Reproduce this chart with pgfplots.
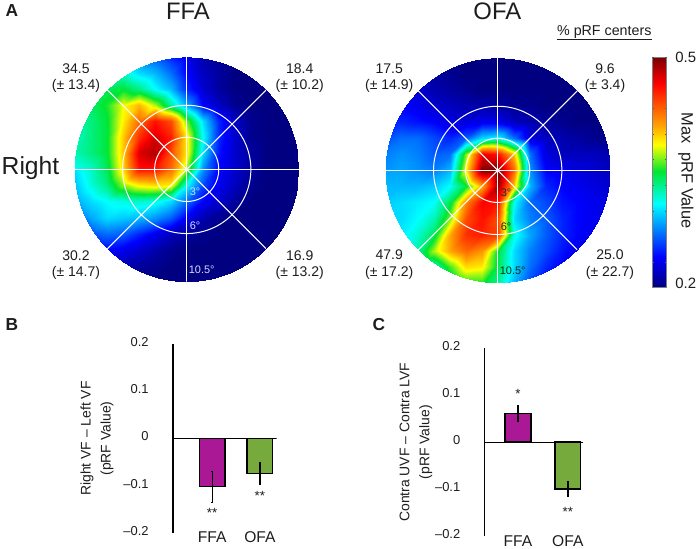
\documentclass[border=0pt]{standalone}
\usepackage{fontspec}
\setmainfont{Liberation Sans}
\usepackage{pgfplots}
\pgfplotsset{compat=1.18}
\newcommand{\fs}[1]{\fontsize{#1}{#1}\selectfont}
\definecolor{txt}{RGB}{30,28,28}
\definecolor{ffabar}{RGB}{170,24,150}
\definecolor{ofabar}{RGB}{118,170,60}
\tikzset{ring/.style={white, line width=0.75pt}, px/.style={x=0.75pt, y=-0.75pt}}

\pgfplotsset{
  colormap={prf}{rgb255(0)=(0,0,128) rgb255(27)=(0,0,255) rgb255(73)=(0,255,255) rgb255(101)=(0,230,50)
    rgb255(124)=(255,255,0) rgb255(140)=(255,165,0) rgb255(177)=(255,0,0) rgb255(200)=(120,0,0)},
  polarmap/.style={
    hide axis, scale only axis, anchor=center, width=168.4pt, height=168.4pt,
    xmin=-10.5, xmax=10.5, ymin=-10.5, ymax=10.5,
    colormap name=prf, point meta min=0.2, point meta max=0.5,
  },
  heat/.style={surf, shader=interp, mesh/cols=15, point meta=explicit},
  spoke/.style={white, line width=#1, forget plot},
  barplot/.style={
    scale only axis, anchor=south west,
    ymin=-0.2, ymax=0.2,
    axis x line=bottom, axis y line=left,
    x axis line style={draw=none}, y axis line style={-, line width=0.9pt},
    xtick={1,2}, xticklabels={FFA,OFA},
    ytick={-0.2,-0.1,0,0.1,0.2}, yticklabels={--0.2,--0.1,0,0.1,0.2},
    major tick length=0pt,
    xticklabel style={font=\fs{11.7}, text=txt, anchor=base, yshift=-7.6pt},
    yticklabel style={font=\fs{9.7}, text=txt, anchor=east, xshift=-14.8pt, yshift=1.5pt},
  },
  onebar/.style={ybar, bar width=19.3pt, bar shift=0pt, draw=black, line width=1pt, fill=#1,
    error bars/.cd, y dir=both, y explicit,
    error bar style={line width=1pt, black}, error mark options={mark size=0.8pt, line width=0.8pt, black, rotate=90}},
}

\begin{document}
\begin{tikzpicture}[every node/.style={text=txt}]
\useasboundingbox (0pt,0pt) rectangle (525pt,-411.75pt);

% panel A, left map
\begin{scope}
\clip (140.025pt,-127.05pt) circle [radius=84.2pt];
\begin{axis}[polarmap, at={(140.025pt,-127.05pt)}]
\addplot[heat] table[row sep=\\, header=false,
    x expr={mod(\coordindex,15)*1.5-10.5}, y expr={10.5-1.5*floor(\coordindex/15)}, meta index=0] {
.30\\.30\\.30\\.30\\.28\\.265\\.25\\.235\\.215\\.205\\.20\\.20\\.20\\.20\\.20\\
.33\\.33\\.33\\.32\\.30\\.29\\.27\\.24\\.22\\.21\\.20\\.20\\.20\\.20\\.20\\
.335\\.335\\.345\\.35\\.335\\.31\\.29\\.25\\.225\\.21\\.20\\.20\\.20\\.20\\.20\\
.335\\.34\\.355\\.385\\.405\\.375\\.33\\.285\\.24\\.22\\.205\\.20\\.20\\.20\\.20\\
.33\\.335\\.35\\.39\\.43\\.46\\.44\\.365\\.30\\.25\\.22\\.205\\.20\\.20\\.20\\
.32\\.335\\.35\\.40\\.45\\.475\\.455\\.39\\.31\\.25\\.225\\.205\\.20\\.20\\.20\\
.325\\.335\\.35\\.40\\.475\\.485\\.44\\.39\\.30\\.245\\.225\\.21\\.20\\.20\\.20\\
.31\\.32\\.345\\.395\\.46\\.46\\.43\\.37\\.28\\.24\\.225\\.21\\.20\\.20\\.20\\
.30\\.315\\.335\\.37\\.39\\.395\\.39\\.31\\.26\\.235\\.22\\.205\\.20\\.20\\.20\\
.285\\.30\\.31\\.315\\.32\\.315\\.30\\.27\\.24\\.225\\.21\\.20\\.20\\.20\\.20\\
.27\\.285\\.30\\.295\\.29\\.28\\.265\\.235\\.215\\.205\\.20\\.20\\.20\\.20\\.20\\
.25\\.26\\.27\\.265\\.25\\.235\\.22\\.21\\.205\\.20\\.20\\.20\\.20\\.20\\.20\\
.23\\.235\\.24\\.235\\.225\\.215\\.205\\.20\\.20\\.20\\.20\\.20\\.20\\.20\\.20\\
.21\\.215\\.22\\.215\\.21\\.205\\.20\\.20\\.20\\.20\\.20\\.20\\.20\\.20\\.20\\
.20\\.20\\.205\\.205\\.20\\.20\\.20\\.20\\.20\\.20\\.20\\.20\\.20\\.20\\.20\\
};
\addplot[spoke=1.05pt] coordinates {(-10.5,0) (10.5,0)};
\addplot[spoke=1.05pt] coordinates {(0,-10.5) (0,10.5)};
\addplot[spoke=0.75pt] coordinates {(-7.43,-7.43) (7.43,7.43)};
\addplot[spoke=0.75pt] coordinates {(-7.43,7.43) (7.43,-7.43)};
\draw[ring] (axis cs:0,0) circle [radius=3];
\draw[ring] (axis cs:0,0) circle [radius=6];
\end{axis}
\end{scope}

% panel A, right map
\begin{scope}
\clip (373.275pt,-127.8pt) circle [radius=84.3pt];
\begin{axis}[polarmap, at={(373.275pt,-127.8pt)}]
\addplot[heat] table[row sep=\\, header=false,
    x expr={mod(\coordindex,15)*1.5-10.5}, y expr={10.5-1.5*floor(\coordindex/15)}, meta index=0] {
.20\\.20\\.20\\.20\\.20\\.20\\.20\\.20\\.20\\.20\\.20\\.20\\.20\\.20\\.20\\
.23\\.225\\.215\\.21\\.205\\.20\\.20\\.20\\.20\\.20\\.20\\.20\\.20\\.20\\.20\\
.235\\.23\\.225\\.215\\.21\\.205\\.20\\.20\\.20\\.20\\.20\\.20\\.20\\.20\\.20\\
.24\\.24\\.235\\.225\\.22\\.215\\.215\\.21\\.205\\.205\\.20\\.20\\.20\\.20\\.20\\
.25\\.25\\.245\\.24\\.23\\.23\\.235\\.235\\.22\\.215\\.21\\.205\\.20\\.20\\.20\\
.26\\.27\\.27\\.26\\.25\\.265\\.30\\.31\\.27\\.23\\.22\\.215\\.21\\.205\\.20\\
.275\\.28\\.275\\.265\\.27\\.37\\.47\\.46\\.40\\.27\\.23\\.22\\.22\\.22\\.215\\
.28\\.285\\.28\\.275\\.29\\.39\\.50\\.50\\.43\\.28\\.24\\.235\\.23\\.225\\.22\\
.285\\.29\\.29\\.295\\.31\\.35\\.41\\.49\\.40\\.29\\.25\\.24\\.235\\.23\\.225\\
.295\\.30\\.305\\.31\\.345\\.42\\.465\\.46\\.31\\.27\\.26\\.245\\.24\\.235\\.23\\
.30\\.30\\.31\\.325\\.37\\.44\\.46\\.44\\.30\\.275\\.265\\.25\\.24\\.235\\.23\\
.30\\.305\\.32\\.345\\.41\\.45\\.455\\.445\\.315\\.285\\.265\\.25\\.24\\.235\\.23\\
.30\\.305\\.33\\.375\\.41\\.43\\.415\\.35\\.30\\.275\\.26\\.245\\.23\\.23\\.23\\
.30\\.305\\.315\\.32\\.36\\.395\\.39\\.345\\.30\\.27\\.25\\.24\\.23\\.23\\.23\\
.30\\.30\\.31\\.32\\.335\\.355\\.355\\.33\\.29\\.26\\.24\\.23\\.23\\.23\\.23\\
};
\addplot[spoke=1.05pt] coordinates {(-10.5,0) (10.5,0)};
\addplot[spoke=1.05pt] coordinates {(0,-10.5) (0,10.5)};
\addplot[spoke=0.75pt] coordinates {(-7.43,-7.43) (7.43,7.43)};
\addplot[spoke=0.75pt] coordinates {(-7.43,7.43) (7.43,-7.43)};
\draw[ring] (axis cs:0,0) circle [radius=3];
\draw[ring] (axis cs:0,0) circle [radius=6];
\end{axis}
\end{scope}

% colour bar
\begin{axis}[scale only axis, anchor=south west, at={(489pt,-215.775pt)}, width=11pt, height=172.8pt,
    xmin=0, xmax=1, ymin=0.2, ymax=0.5, xtick=\empty, axis on top,
    colormap name=prf, point meta min=0.2, point meta max=0.5,
    axis line style={gray, line width=0.5pt}, tick style={gray!70!black, line width=0.3pt},
    tick align=inside, major tick length=1.6pt, minor tick length=1.6pt,
    yticklabel pos=right,
    ytick={0.2}, yticklabels={0.2},
    extra y ticks={0.5}, extra y tick labels={0.5},
    extra y tick style={yticklabel style={yshift=-3.3pt}},
    minor ytick={0.2333,0.2667,0.3,0.3333,0.3667,0.4,0.4333,0.4667},
    yticklabel style={font=\fs{11.2}, text=txt, yshift=3.5pt, xshift=3pt},
    ylabel={Max\ \ pRF Value},
    ylabel style={font=\fs{12.3}, text=txt, at={(axis description cs:2.31,0.508)}, anchor=center, rotate=180},
  ]
\addplot[surf, shader=interp, mesh/cols=2, point meta=explicit] coordinates {
  (0,0.2) [0.2] (1,0.2) [0.2]
  (0,0.5) [0.5] (1,0.5) [0.5]
};
\end{axis}

% text of panel A
\begin{scope}[px]
\node[anchor=base west, font=\fs{13}\bfseries] at (1,17) {A};
\node[anchor=base, font=\fs{17.9}] at (188,20) {FFA};
\node[anchor=base, font=\fs{17.9}] at (497.3,20) {OFA};
\node[anchor=base, font=\fs{18.5}] at (30.5,175) {Right};
\node[anchor=base, font=\fs{10.7}, inner sep=0pt] (pc) at (604.3,36) {\% pRF centers};
\draw[txt, line width=0.6pt] (557,39.5) -- (651.7,39.5);

\node[anchor=base, font=\fs{10.5}] at (76,74) {34.5};
\node[anchor=base, font=\fs{10.5}] at (76,89.5) {(± 13.4)};
\node[anchor=base, font=\fs{10.5}] at (299.7,74) {18.4};
\node[anchor=base, font=\fs{10.5}] at (299.7,89.5) {(± 10.2)};
\node[anchor=base, font=\fs{10.5}] at (76,260) {30.2};
\node[anchor=base, font=\fs{10.5}] at (76,276.5) {(± 14.7)};
\node[anchor=base, font=\fs{10.5}] at (299.7,260) {16.9};
\node[anchor=base, font=\fs{10.5}] at (299.7,276.5) {(± 13.2)};

\node[anchor=base, font=\fs{10.5}] at (389.3,73.5) {17.5};
\node[anchor=base, font=\fs{10.5}] at (389.3,90) {(± 14.9)};
\node[anchor=base, font=\fs{10.5}] at (605,73.5) {9.6};
\node[anchor=base, font=\fs{10.5}] at (605,90) {(± 3.4)};
\node[anchor=base, font=\fs{10.5}] at (389.3,259.5) {47.9};
\node[anchor=base, font=\fs{10.5}] at (389.3,276.5) {(± 17.2)};
\node[anchor=base, font=\fs{10.5}] at (610,259.5) {25.0};
\node[anchor=base, font=\fs{10.5}] at (610,276.5) {(± 22.7)};

\node[font=\fs{8.2}, text=white!85!blue] at (195,191.7) {3°};
\node[font=\fs{8.2}, text=white!85!blue] at (195,226) {6°};
\node[font=\fs{8.2}, text=white!85!blue] at (201.7,270) {10.5°};
\node[font=\fs{8.2}, text=black!85] at (506,192.7) {3°};
\node[font=\fs{8.2}, text=black!85] at (506,227) {6°};
\node[font=\fs{8.2}, text=black!70!green!60!black] at (512.7,271) {10.5°};

\node[anchor=base west, font=\fs{13}\bfseries] at (1,330.7) {B};
\node[anchor=base west, font=\fs{13}\bfseries] at (368,330.7) {C};
\end{scope}

% panel B
\begin{axis}[barplot, at={(129.75pt,-399.525pt)}, width=77.8pt, height=141.3pt, xmin=0.179, xmax=2.353,
    ylabel={Right VF -- Left VF\\(pRF Value)},
    ylabel style={font=\fontsize{10.45}{15}\selectfont, text=txt, align=center,
      at={(axis description cs:-0.733,0.5)}, anchor=center},
  ]
\addplot[onebar=ffabar] coordinates {(1,-0.1025) +- (0,0.033)};
\addplot[onebar=ofabar] coordinates {(2,-0.074) +- (0,0.024)};
\addplot[black, line width=0.9pt, forget plot] coordinates {(0.179,0) (2.353,0)};
\node[font=\fs{10}] at (axis cs:1,-0.158) {**};
\node[font=\fs{10}] at (axis cs:2,-0.122) {**};
\end{axis}

% panel C
\begin{axis}[barplot, at={(363.525pt,-402pt)}, width=73.95pt, height=140.8pt, xmin=0.332, xmax=2.31,
    ylabel={Contra UVF -- Contra LVF\\(pRF Value)},
    ylabel style={font=\fontsize{10.45}{15}\selectfont, text=txt, align=center,
      at={(axis description cs:-0.697,0.5)}, anchor=center},
  ]
\addplot[onebar=ffabar] coordinates {(1,0.061) +- (0,0.017)};
\addplot[onebar=ofabar] coordinates {(2,-0.10) +- (0,0.016)};
\addplot[black, line width=0.9pt, forget plot] coordinates {(0.332,0) (2.31,0)};
\node[font=\fs{10}] at (axis cs:1,0.103) {*};
\node[font=\fs{10}] at (axis cs:2,-0.148) {**};
\end{axis}
\end{tikzpicture}
\end{document}
